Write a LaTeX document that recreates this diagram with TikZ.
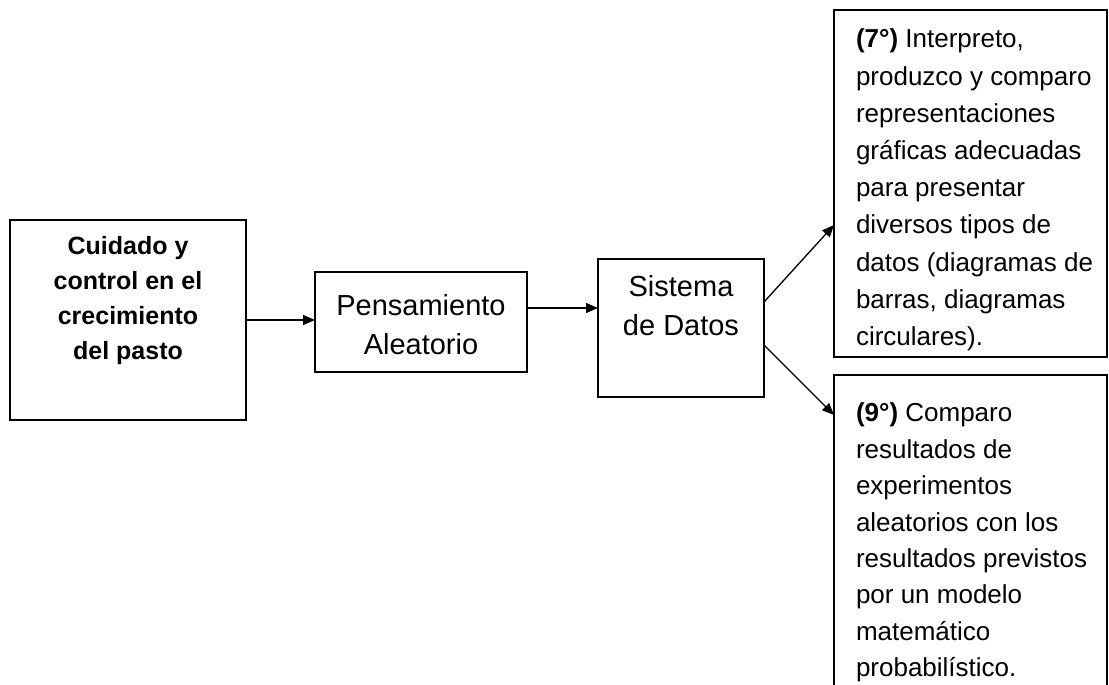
\documentclass[tikz,border=0pt]{standalone}
\usepackage{fontspec}
\setmainfont{Liberation Sans}
\usetikzlibrary{arrows.meta, positioning, calc}

\begin{document}
\begin{tikzpicture}[
    x=1pt, y=-1pt,
    blk/.style={draw, line width=1.5pt, inner sep=0pt, outer sep=0pt},
    txt/.style={inner sep=0pt, outer sep=0pt},
    arrow/.style={-{Triangle[length=12pt, width=10pt]}, line width=1.3pt}
]
    \useasboundingbox (0,0) rectangle (1109,685);
    \clip (0,0) rectangle (1109,685);

    % boxes
    \node[blk, line width=2.6pt, minimum width=236pt, minimum height=200pt] (cuidado) at (128,320) {};
    \node[blk, minimum width=212pt, minimum height=100pt] (pensamiento) at (421,322) {};
    \node[blk, minimum width=166pt, minimum height=138pt] (sistema) at (681,328) {};
    \node[blk, minimum width=273pt, minimum height=347pt] (interpreto) at (970.5,183.5) {};
    \node[blk, minimum width=273pt, minimum height=330pt] (comparo) at (970.5,540) {};

    % texts
    \node[txt, anchor=north, align=center, font=\fontsize{25}{35}\selectfont\bfseries] (cuidadotxt) at (128,236)
        {Cuidado y\\control en el\\crecimiento\\del pasto};
    \node[txt, align=center, font=\fontsize{29}{39}\selectfont] (pensamientotxt) at (421,325)
        {Pensamiento\\Aleatorio};
    \node[txt, anchor=north, align=center, font=\fontsize{29}{39}\selectfont] (sistematxt) at (681,275)
        {Sistema\\de Datos};
    \node[txt, anchor=north west, align=left, font=\fontsize{26}{37.2}\selectfont] (interpretotxt) at (856,29)
        {\textbf{(7°)} Interpreto,\\produzco y comparo\\representaciones\\gráficas adecuadas\\para presentar\\diversos tipos de\\datos (diagramas de\\barras, diagramas\\circulares).};
    \node[txt, anchor=north west, align=left, font=\fontsize{26}{36.4}\selectfont] (comparotxt) at (856,403)
        {\textbf{(9°)} Comparo\\resultados de\\experimentos\\aleatorios con los\\resultados previstos\\por un modelo\\matemático\\probabilístico.};

    % connectors
    \draw[arrow] (cuidado.east) -- (cuidado.east -| pensamiento.west);
    \draw[arrow] ([yshift=14pt]pensamiento.east) -- ([yshift=14pt]pensamiento.east -| sistema.west);
    \draw[arrow] ([yshift=26pt]sistema.east) -- ([yshift=-41.5pt]interpreto.west);
    \draw[arrow] ([yshift=-17pt]sistema.east) -- ([yshift=125pt]comparo.west);
\end{tikzpicture}
\end{document}
